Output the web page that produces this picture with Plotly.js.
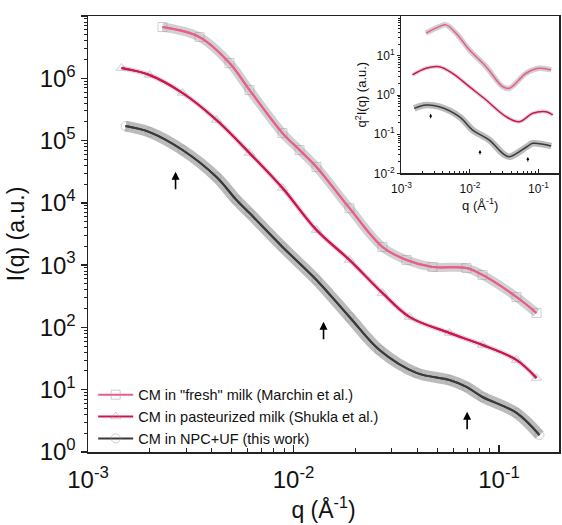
<!DOCTYPE html>
<html>
<head>
<meta charset="utf-8">
<script src="https://cdn.plot.ly/plotly-3.0.1.min.js"></script>
<style>html,body{margin:0;padding:0;background:#fff;}#chart{width:562px;height:525px;}</style>
</head>
<body>
<div id="chart"></div>
<script>
// ---------- data ----------
const seriesNames = ['CM in "fresh" milk (Marchin et al.)', 'CM in pasteurized milk (Shukla et al.)', 'CM in NPC+UF (this work)'];

// main panel: I(q)
const qFresh = [0.002304, 0.003488, 0.004883, 0.006107, 0.008840, 0.01070, 0.01294, 0.01873, 0.02710, 0.03548, 0.04746, 0.06947, 0.08311, 0.1217, 0.1522];
const iFresh = [6.65e6, 4.60e6, 1.76e6, 6.49e5, 1.32e5, 7.06e4, 3.77e4, 8.2e3, 1.96e3, 1.21e3, 933, 899, 695, 308, 171];

const qPast = [0.001455, 0.001992, 0.002884, 0.004219, 0.006107, 0.008840, 0.01294, 0.01873, 0.02710, 0.03669, 0.05741, 0.08311, 0.1217, 0.1522];
const iPast = [1.46e6, 1.13e6, 5.81e5, 2.14e5, 6.32e4, 1.73e4, 3.66e3, 1.21e3, 357, 147, 81.5, 52.2, 30, 15.4];

const qNPC = [0.001522, 0.001992, 0.002884, 0.004219, 0.005279, 0.006107, 0.008840, 0.01294, 0.01873, 0.02621, 0.03968, 0.05741, 0.06947, 0.08311, 0.1217, 0.1574];
const iNPC = [1.71e5, 1.37e5, 7.06e4, 2.60e4, 1.11e4, 6.87e3, 1.96e3, 578, 147, 43.4, 18.6, 14.3, 11.1, 7.64, 4.24, 1.87];

// inset: q^2 I(q)
const qInFresh = [0.002275, 0.003561, 0.004463, 0.006251, 0.009784, 0.01717, 0.03003, 0.03764, 0.06607, 0.1034, 0.1534];
const vInFresh = [38.1, 56.1, 62.1, 38.1, 14.3, 5.32, 1.64, 1.49, 3.61, 4.84, 4.38];

const qInPast = [0.001448, 0.002275, 0.003561, 0.005574, 0.009784, 0.01717, 0.03369, 0.05272, 0.08253, 0.1296, 0.1619];
const vInPast = [3.27, 4.84, 5.32, 3.61, 1.64, 0.750, 0.281, 0.209, 0.343, 0.376, 0.310];

const qInNPC = [0.001534, 0.002275, 0.003561, 0.006986, 0.01094, 0.01919, 0.03003, 0.03764, 0.06764, 0.08253, 0.1534];
const vInNPC = [0.459, 0.558, 0.505, 0.281, 0.128, 0.0711, 0.0325, 0.0266, 0.0479, 0.0585, 0.0499];

// arrow markers (q position, tip intensity)
const arrowQ = [0.002667, 0.01400, 0.06998];
const arrowI = [3.16e4, 123.6, 4.44];
const arrowInsetV = [0.332, 0.0395, 0.0262];

// tick labels
const xTickVals = [0.001, 0.01, 0.1];
const xTickText = ['10<sup>-3</sup>', '10<sup>-2</sup>', '10<sup>-1</sup>'];
const yTickVals = [1, 10, 100, 1e3, 1e4, 1e5, 1e6, 1e7];
const yTickText = ['10<sup>0</sup>', '10<sup>1</sup>', '10<sup>2</sup>', '10<sup>3</sup>', '10<sup>4</sup>', '10<sup>5</sup>', '10<sup>6</sup>', '10<sup>7</sup>'];
const y2TickVals = [0.01, 0.1, 1, 10];
const y2TickText = ['10<sup>-2</sup>', '10<sup>-1</sup>', '10<sup>0</sup>', '10<sup>1</sup>'];

// ---------- styling ----------
const FONT = 'Liberation Sans, Arial, sans-serif';
const colors = ['#ec5b8e', '#d3124f', '#3a3a3a'];
const haloColors = ['rgba(150,150,150,0.45)', 'rgba(175,175,175,0.45)', 'rgba(120,120,120,0.5)'];
const haloWidths = [9, 5, 11];
const symbols = ['square-open', 'triangle-up-open', 'circle-open'];

function minorVals(lo, hi) {
  const v = [];
  for (let e = lo; e < hi; e++) for (let m = 2; m <= 9; m++) v.push(m * Math.pow(10, e));
  return v;
}

const mainQ = [qFresh, qPast, qNPC];
const mainI = [iFresh, iPast, iNPC];
const inQ = [qInFresh, qInPast, qInNPC];
const inV = [vInFresh, vInPast, vInNPC];

const traces = [];
// halos
for (let k = 0; k < 3; k++) {
  traces.push({x: mainQ[k], y: mainI[k], mode: 'lines', line: {color: haloColors[k], width: haloWidths[k], shape: 'spline'}, showlegend: false, hoverinfo: 'skip', xaxis: 'x', yaxis: 'y'});
  traces.push({x: inQ[k], y: inV[k], mode: 'lines', line: {color: haloColors[k], width: Math.max(4, haloWidths[k] * 0.6), shape: 'spline'}, showlegend: false, hoverinfo: 'skip', xaxis: 'x2', yaxis: 'y2'});
}
// legend traces with markers
for (let k = 0; k < 3; k++) {
  traces.push({x: mainQ[k], y: mainI[k], name: seriesNames[k], mode: 'lines+markers',
    line: {color: colors[k], width: 2, shape: 'spline'},
    marker: {symbol: symbols[k], size: 9, color: 'rgba(150,150,150,0.45)', line: {width: 1, color: 'rgba(150,150,150,0.45)'}},
    xaxis: 'x', yaxis: 'y'});
}
// line overlays
for (let k = 0; k < 3; k++) {
  traces.push({x: mainQ[k], y: mainI[k], mode: 'lines', line: {color: colors[k], width: 2, shape: 'spline'}, showlegend: false, hoverinfo: 'skip', xaxis: 'x', yaxis: 'y'});
  traces.push({x: inQ[k], y: inV[k], mode: 'lines', line: {color: colors[k], width: 1.5, shape: 'spline'}, showlegend: false, hoverinfo: 'skip', xaxis: 'x2', yaxis: 'y2'});
}

const annotations = [];
for (let k = 0; k < 3; k++) {
  annotations.push({x: Math.log10(arrowQ[k]), y: Math.log10(arrowI[k]), xref: 'x', yref: 'y', text: '', showarrow: true,
    arrowhead: 2, arrowsize: 1, arrowwidth: 1.6, arrowcolor: '#000', ax: 0, ay: 19, standoff: 0});
  annotations.push({x: Math.log10(arrowQ[k]), y: Math.log10(arrowInsetV[k]), xref: 'x2', yref: 'y2', text: '', showarrow: true,
    arrowhead: 2, arrowsize: 0.6, arrowwidth: 1, arrowcolor: '#000', ax: 0, ay: 6, standoff: 0});
}

const axLine = {showline: true, linecolor: '#222', linewidth: 1.5, mirror: true, showgrid: false, zeroline: false};

const layout = {
  width: 562, height: 525,
  margin: {l: 88, r: 3, t: 16, b: 73},
  paper_bgcolor: '#fff', plot_bgcolor: 'rgba(0,0,0,0)',
  font: {family: FONT, color: '#111'},
  showlegend: true,
  legend: {x: 0.011, y: 0.168, xanchor: 'left', yanchor: 'top', bgcolor: 'rgba(0,0,0,0)', font: {family: FONT, size: 14.5, color: '#111'}, tracegroupgap: 0, itemwidth: 35},
  xaxis: Object.assign({}, axLine, {type: 'log', range: [-3, -0.708], domain: [0, 1], anchor: 'y',
    tickmode: 'array', tickvals: xTickVals, ticktext: xTickText, ticks: 'inside', ticklen: 7, tickwidth: 1.3, tickcolor: '#222',
    ticklabelstandoff: 6,
    tickfont: {family: FONT, size: 24, color: '#111'},
    minor: {tickmode: 'array', tickvals: minorVals(-3, -1).concat([0.2]), ticks: 'inside', ticklen: 4, tickwidth: 1, tickcolor: '#222'},
    title: {text: 'q (Å<sup>-1</sup>)', font: {family: FONT, size: 23, color: '#111'}, standoff: 0}}),
  yaxis: Object.assign({}, axLine, {type: 'log', range: [0, 7], domain: [0, 1], anchor: 'x',
    tickmode: 'array', tickvals: yTickVals, ticktext: yTickText, ticks: 'outside', ticklen: 6, tickwidth: 1.3, tickcolor: '#222',
    tickfont: {family: FONT, size: 24, color: '#111'},
    minor: {tickmode: 'array', tickvals: minorVals(0, 7), ticks: 'outside', ticklen: 3, tickwidth: 1, tickcolor: '#222'},
    title: {text: 'I(q) (a.u.)', font: {family: FONT, size: 23, color: '#111'}, standoff: 8}}),
  xaxis2: Object.assign({}, axLine, {type: 'log', range: [-3, -0.7], domain: [0.6656, 1], anchor: 'y2',
    tickmode: 'array', tickvals: xTickVals, ticktext: xTickText, ticks: 'inside', ticklen: 4, tickwidth: 1, tickcolor: '#222',
    ticklabelstandoff: 4,
    tickfont: {family: FONT, size: 12, color: '#111'},
    minor: {tickmode: 'array', tickvals: minorVals(-3, -1).concat([0.2]), ticks: 'inside', ticklen: 2, tickwidth: 1, tickcolor: '#222'},
    title: {text: 'q (Å<sup>-1</sup>)', font: {family: FONT, size: 13, color: '#111'}, standoff: 3}}),
  yaxis2: Object.assign({}, axLine, {type: 'log', range: [-2, 2.02], domain: [0.639, 1], anchor: 'x2',
    tickmode: 'array', tickvals: y2TickVals, ticktext: y2TickText, ticks: 'outside', ticklen: 3, tickwidth: 1, tickcolor: '#222',
    tickfont: {family: FONT, size: 12, color: '#111'},
    minor: {tickmode: 'array', tickvals: minorVals(-2, 2), ticks: 'outside', ticklen: 2, tickwidth: 1, tickcolor: '#222'},
    title: {text: 'q<sup>2</sup>I(q) (a.u.)', font: {family: FONT, size: 13, color: '#111'}, standoff: 4}}),
  annotations: annotations
};

Plotly.newPlot('chart', traces, layout, {displayModeBar: false, staticPlot: true});
</script>
</body>
</html>
